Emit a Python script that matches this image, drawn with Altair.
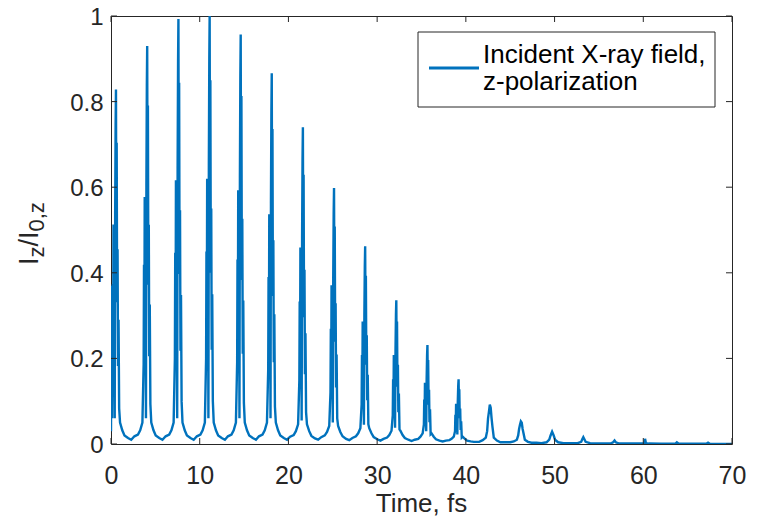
import altair as alt
import pandas as pd

# ---- axis ticks ----
x_ticks = [0, 10, 20, 30, 40, 50, 60, 70]
y_ticks = [0, 0.2, 0.4, 0.6, 0.8, 1.0]

# ---- pulse train (time in fs, normalised intensity) ----
p1_t = [0.00, 0.06, 0.12, 0.16, 0.20, 0.24, 0.28, 0.32, 0.37, 0.42, 0.47, 0.52, 0.56, 0.60, 0.64, 0.69, 0.74, 0.79, 0.85, 0.92, 1.02, 1.27, 1.52, 1.92, 2.28]
p1_v = [0.03, 0.37, 0.06, 0.166, 0.373, 0.207, 0.513, 0.29, 0.414, 0.06, 0.538, 0.745, 0.828, 0.497, 0.704, 0.331, 0.455, 0.182, 0.29, 0.083, 0.05, 0.032, 0.02, 0.014, 0.01]
p2_t = [2.64, 3.04, 3.29, 3.54, 3.68, 3.72, 3.76, 3.80, 3.84, 3.89, 3.94, 3.99, 4.04, 4.08, 4.12, 4.16, 4.21, 4.26, 4.31, 4.37, 4.44, 4.54, 4.79, 5.04, 5.44, 5.80]
p2_v = [0.018, 0.022, 0.032, 0.05, 0.186, 0.419, 0.233, 0.577, 0.326, 0.465, 0.06, 0.605, 0.837, 0.93, 0.558, 0.791, 0.372, 0.512, 0.205, 0.326, 0.093, 0.05, 0.032, 0.02, 0.014, 0.01]
p3_t = [6.16, 6.56, 6.81, 7.06, 7.20, 7.24, 7.28, 7.32, 7.36, 7.41, 7.46, 7.51, 7.56, 7.60, 7.64, 7.68, 7.73, 7.78, 7.83, 7.89, 7.96, 8.06, 8.31, 8.56, 8.96, 9.32]
p3_v = [0.018, 0.022, 0.032, 0.05, 0.199, 0.447, 0.248, 0.616, 0.348, 0.497, 0.06, 0.645, 0.894, 0.993, 0.596, 0.844, 0.397, 0.546, 0.218, 0.348, 0.099, 0.05, 0.032, 0.02, 0.014, 0.01]
p4_t = [9.68, 10.08, 10.33, 10.58, 10.72, 10.76, 10.80, 10.84, 10.88, 10.93, 10.98, 11.03, 11.08, 11.12, 11.16, 11.20, 11.25, 11.30, 11.35, 11.41, 11.48, 11.58, 11.83, 12.08, 12.48, 12.84]
p4_v = [0.018, 0.022, 0.032, 0.05, 0.2, 0.45, 0.25, 0.62, 0.35, 0.5, 0.06, 0.65, 0.9, 1.0, 0.6, 0.85, 0.4, 0.55, 0.22, 0.35, 0.1, 0.05, 0.032, 0.02, 0.014, 0.01]
p5_t = [13.18, 13.58, 13.83, 14.08, 14.22, 14.26, 14.30, 14.34, 14.38, 14.43, 14.48, 14.53, 14.58, 14.62, 14.66, 14.70, 14.75, 14.80, 14.85, 14.91, 14.98, 15.08, 15.33, 15.58, 15.98, 16.34]
p5_v = [0.018, 0.022, 0.032, 0.05, 0.191, 0.431, 0.239, 0.593, 0.335, 0.479, 0.06, 0.622, 0.861, 0.957, 0.574, 0.813, 0.383, 0.526, 0.211, 0.335, 0.096, 0.05, 0.032, 0.02, 0.014, 0.01]
p6_t = [16.68, 17.08, 17.33, 17.58, 17.72, 17.76, 17.80, 17.84, 17.88, 17.93, 17.98, 18.03, 18.08, 18.12, 18.16, 18.20, 18.25, 18.30, 18.35, 18.41, 18.48, 18.58, 18.83, 19.08, 19.48, 19.84]
p6_v = [0.018, 0.022, 0.032, 0.05, 0.173, 0.39, 0.217, 0.537, 0.303, 0.433, 0.06, 0.563, 0.779, 0.866, 0.52, 0.736, 0.346, 0.476, 0.191, 0.303, 0.087, 0.05, 0.032, 0.02, 0.014, 0.01]
p7_t = [20.19, 20.59, 20.84, 21.09, 21.23, 21.27, 21.31, 21.35, 21.39, 21.44, 21.49, 21.54, 21.59, 21.63, 21.67, 21.71, 21.76, 21.81, 21.86, 21.92, 21.99, 22.09, 22.34, 22.59, 22.99, 23.35]
p7_v = [0.017, 0.021, 0.03, 0.046, 0.148, 0.333, 0.185, 0.459, 0.259, 0.37, 0.055, 0.481, 0.666, 0.74, 0.444, 0.629, 0.296, 0.407, 0.163, 0.259, 0.074, 0.046, 0.03, 0.019, 0.013, 0.01]
p8_t = [23.70, 24.10, 24.35, 24.60, 24.74, 24.78, 24.82, 24.86, 24.90, 24.95, 25.00, 25.05, 25.10, 25.14, 25.18, 25.22, 25.27, 25.32, 25.37, 25.43, 25.50, 25.60, 25.85, 26.10, 26.50, 26.86]
p8_v = [0.016, 0.02, 0.028, 0.042, 0.12, 0.269, 0.15, 0.371, 0.209, 0.299, 0.05, 0.389, 0.538, 0.598, 0.359, 0.508, 0.239, 0.329, 0.132, 0.209, 0.06, 0.042, 0.028, 0.018, 0.012, 0.009]
p9_t = [27.21, 27.61, 27.86, 28.11, 28.25, 28.29, 28.33, 28.37, 28.41, 28.46, 28.51, 28.56, 28.61, 28.65, 28.69, 28.73, 28.78, 28.83, 28.88, 28.94, 29.01, 29.11, 29.36, 29.61, 30.01, 30.37]
p9_v = [0.014, 0.018, 0.025, 0.037, 0.092, 0.208, 0.116, 0.286, 0.162, 0.231, 0.045, 0.3, 0.416, 0.462, 0.277, 0.393, 0.185, 0.254, 0.102, 0.162, 0.046, 0.037, 0.025, 0.016, 0.011, 0.008]
p10_t = [30.72, 31.12, 31.37, 31.62, 31.76, 31.80, 31.84, 31.88, 31.92, 31.97, 32.02, 32.07, 32.12, 32.16, 32.20, 32.24, 32.29, 32.34, 32.39, 32.45, 32.52, 32.62, 32.87, 33.12, 33.52, 33.88]
p10_v = [0.012, 0.015, 0.021, 0.031, 0.067, 0.151, 0.084, 0.208, 0.118, 0.168, 0.038, 0.218, 0.302, 0.336, 0.202, 0.286, 0.134, 0.185, 0.074, 0.118, 0.034, 0.031, 0.021, 0.014, 0.01, 0.007]
p11_t = [34.23, 34.63, 34.88, 35.13, 35.27, 35.31, 35.35, 35.39, 35.43, 35.48, 35.53, 35.58, 35.63, 35.67, 35.71, 35.75, 35.80, 35.85, 35.90, 35.96, 36.03, 36.13, 36.38, 36.63, 37.03, 37.39]
p11_v = [0.01, 0.012, 0.017, 0.025, 0.046, 0.104, 0.058, 0.143, 0.081, 0.116, 0.03, 0.15, 0.208, 0.231, 0.139, 0.196, 0.092, 0.127, 0.051, 0.081, 0.023, 0.025, 0.017, 0.011, 0.008, 0.006]
p12_t = [37.74, 38.14, 38.39, 38.64, 38.78, 38.82, 38.86, 38.90, 38.94, 38.99, 39.04, 39.09, 39.14, 39.18, 39.22, 39.26, 39.31, 39.36, 39.41, 39.47, 39.54, 39.64, 39.89, 40.14, 40.54, 40.90]
p12_v = [0.008, 0.009, 0.012, 0.017, 0.03, 0.068, 0.038, 0.094, 0.053, 0.076, 0.022, 0.098, 0.136, 0.151, 0.091, 0.128, 0.06, 0.083, 0.033, 0.053, 0.015, 0.017, 0.012, 0.008, 0.006, 0.005]
p13_t = [41.5, 41.9, 42.25, 42.4, 42.5, 42.6, 42.7, 42.8, 42.9, 43.0, 43.15, 43.5, 43.9, 44.46]
p13_v = [0.005, 0.009, 0.015, 0.03, 0.06, 0.075, 0.092, 0.085, 0.06, 0.04, 0.015, 0.008, 0.004, 0.004]
p14_t = [45.0, 45.4, 45.75, 45.9, 46.0, 46.1, 46.2, 46.3, 46.4, 46.5, 46.65, 47.0, 47.4, 47.96]
p14_v = [0.004, 0.006, 0.01, 0.02, 0.035, 0.045, 0.053, 0.05, 0.035, 0.025, 0.01, 0.005, 0.003, 0.003]
p15_t = [48.52, 49.1, 49.4, 49.55, 49.72, 49.9, 50.05, 50.4, 51.0, 51.48]
p15_v = [0.002, 0.004, 0.01, 0.02, 0.029, 0.02, 0.01, 0.004, 0.002, 0.002]
p16_t = [52.6, 53.0, 53.12, 53.24, 53.36, 53.5, 54.0, 55.0]
p16_v = [0.002, 0.005, 0.011, 0.016, 0.011, 0.005, 0.002, 0.0015]
p17_t = [56.3, 56.6, 56.76, 56.9, 57.3, 58.5]
p17_v = [0.001, 0.004, 0.008, 0.004, 0.001, 0.001]
p18_t = [60.1, 60.2, 60.3, 60.6, 62.0]
p18_v = [0.001, 0.012, 0.002, 0.001, 0.0005]
p19_t = [63.6, 63.78, 64.0, 65.5]
p19_v = [0.0005, 0.004, 0.0005, 0.0005]
p20_t = [67.1, 67.3, 67.5, 70.0]
p20_v = [0.0005, 0.003, 0.0005, 0.0003]

times = (p1_t + p2_t + p3_t + p4_t + p5_t + p6_t + p7_t + p8_t + p9_t + p10_t
         + p11_t + p12_t + p13_t + p14_t + p15_t + p16_t + p17_t + p18_t + p19_t + p20_t)
vals = (p1_v + p2_v + p3_v + p4_v + p5_v + p6_v + p7_v + p8_v + p9_v + p10_v
        + p11_v + p12_v + p13_v + p14_v + p15_v + p16_v + p17_v + p18_v + p19_v + p20_v)

legend_lines = ["Incident X-ray field,", "z-polarization"]
ytitle_parts = ["I", "z", "/I", "0,z"]
xtitle = "Time, fs"

df = pd.DataFrame({"t": times, "I": vals})
df_xt = pd.DataFrame({"v": x_ticks})
df_yt = pd.DataFrame({"v": y_ticks})
one = pd.DataFrame({"a": [0]})

W, H = 621, 428
FONT = "Liberation Sans"
AX = "#262626"
BLUE = "#0072BD"

xs = alt.Scale(domain=[0, 70], nice=False, zero=False)
ys = alt.Scale(domain=[0, 1], nice=False)

ax_x = alt.Axis(values=x_ticks, format="d", title=None, domain=False, ticks=False,
                grid=False, labelFont=FONT, labelFontSize=25, labelColor=AX,
                labelPadding=19, orient="bottom", labelFlush=False)
ax_y = alt.Axis(values=y_ticks, format="~g", title=None, domain=False, ticks=False,
                grid=False, labelFont=FONT, labelFontSize=24, labelColor=AX,
                labelPadding=8, orient="left", labelFlush=False, labelOffset=1.5)

line = alt.Chart(df).mark_line(color=BLUE, strokeWidth=2.4, clip=True).encode(
    x=alt.X("t:Q", scale=xs, axis=ax_x),
    y=alt.Y("I:Q", scale=ys, axis=ax_y),
)

tick_bottom = alt.Chart(df_xt).mark_rule(color=AX, strokeWidth=1).encode(
    x=alt.X("v:Q", scale=xs, axis=ax_x), y=alt.value(H), y2=alt.value(H - 6))
tick_top = alt.Chart(df_xt).mark_rule(color=AX, strokeWidth=1).encode(
    x=alt.X("v:Q", scale=xs, axis=ax_x), y=alt.value(0), y2=alt.value(6))
tick_left = alt.Chart(df_yt).mark_rule(color=AX, strokeWidth=1).encode(
    y=alt.Y("v:Q", scale=ys, axis=ax_y), x=alt.value(0), x2=alt.value(6))
tick_right = alt.Chart(df_yt).mark_rule(color=AX, strokeWidth=1).encode(
    y=alt.Y("v:Q", scale=ys, axis=ax_y), x=alt.value(W), x2=alt.value(W - 6))

leg_box = alt.Chart(one).mark_rect(fill="white", stroke=AX, strokeWidth=1).encode(
    x=alt.value(307), x2=alt.value(604), y=alt.value(16), y2=alt.value(91))
leg_line = alt.Chart(one).mark_rule(color=BLUE, strokeWidth=3).encode(
    x=alt.value(318), x2=alt.value(368), y=alt.value(52))
leg_t1 = alt.Chart(one).mark_text(align="left", baseline="alphabetic", font=FONT, fontSize=26,
                                  color="black").encode(
    x=alt.value(372), y=alt.value(47), text=alt.value(legend_lines[0]))
leg_t2 = alt.Chart(one).mark_text(align="left", baseline="alphabetic", font=FONT, fontSize=26,
                                  color="black").encode(
    x=alt.value(372), y=alt.value(74), text=alt.value(legend_lines[1]))


def ypart(txt, x, y, size):
    return alt.Chart(one).mark_text(align="left", baseline="alphabetic", angle=270, font=FONT,
                                    fontSize=size, color=AX).encode(
        x=alt.value(x), y=alt.value(y), text=alt.value(txt))


yt = [
    ypart(ytitle_parts[0], -73, 249, 27),
    ypart(ytitle_parts[1], -67, 241.5, 22),
    ypart(ytitle_parts[2], -73, 230.5, 27),
    ypart(ytitle_parts[3], -67, 215.5, 22),
]

xt = alt.Chart(one).mark_text(align="center", baseline="alphabetic", font=FONT, fontSize=26,
                              color=AX).encode(
    x=alt.value(W / 2), y=alt.value(496), text=alt.value(xtitle))

chart = alt.layer(line, tick_bottom, tick_top, tick_left, tick_right,
                  leg_box, leg_line, leg_t1, leg_t2, *yt, xt).properties(
    width=W, height=H, autosize="none",
    padding={"left": 103, "top": 8, "right": 17, "bottom": 75},
    background="white",
).configure_view(stroke=AX, strokeWidth=1)

chart.save("out.html", embed_options={"renderer": "svg", "actions": False})
